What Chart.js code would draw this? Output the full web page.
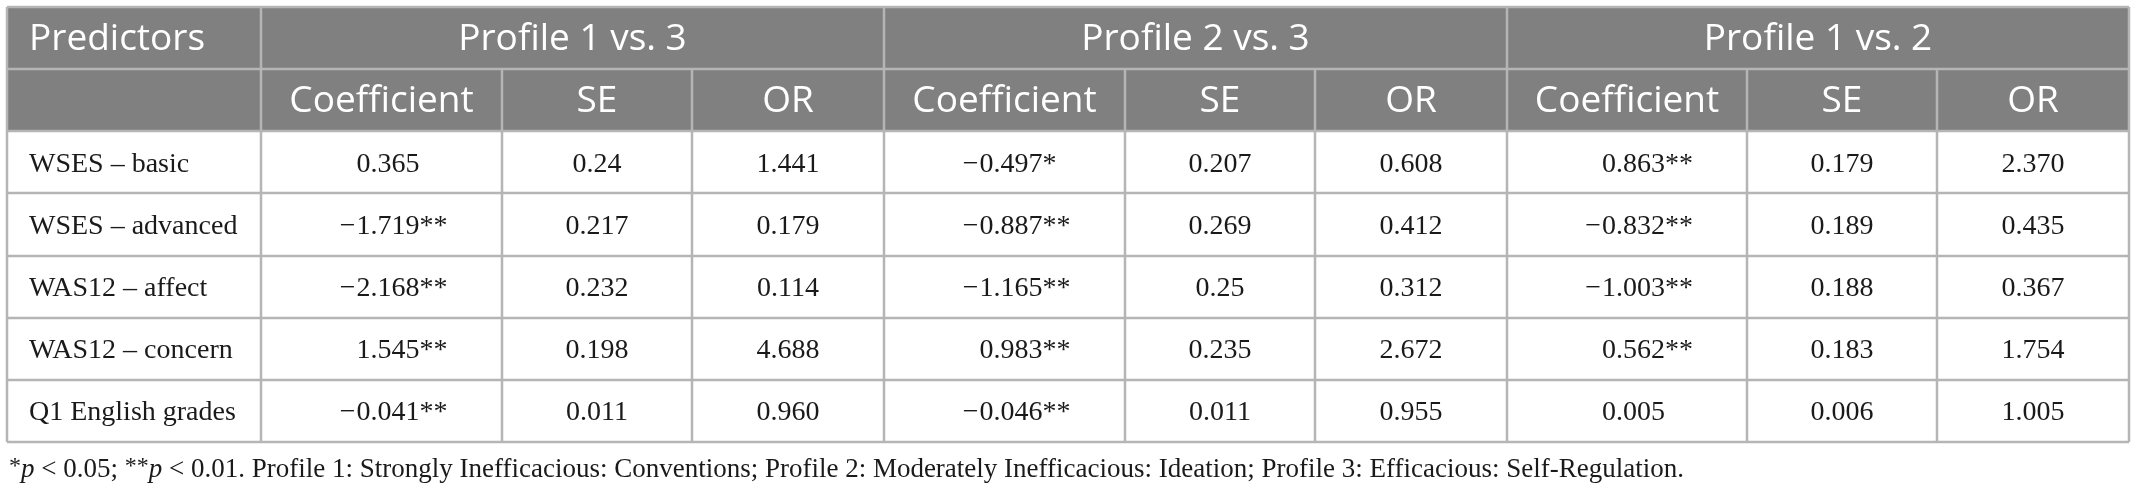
<!DOCTYPE html>
<html>
<head>
<meta charset="utf-8">
<script src="https://cdn.jsdelivr.net/npm/chart.js@4"></script>
<style>
  html, body { margin: 0; padding: 0; background: #fff; }
  #wrap { width: 2136px; height: 496px; position: relative; }
</style>
</head>
<body>
<div id="wrap"><canvas id="chart_table"></canvas></div>
<script>
// Table content
const predictors = ['WSES \u2013 basic', 'WSES \u2013 advanced', 'WAS12 \u2013 affect', 'WAS12 \u2013 concern', 'Q1 English grades'];
const comparisons = ['Profile 1 vs. 3', 'Profile 2 vs. 3', 'Profile 1 vs. 2'];
const statLabels = ['Coefficient', 'SE', 'OR'];

const coef13 = ['0.365', '\u22121.719', '\u22122.168', '1.545', '\u22120.041'];
const sig13 = ['', '**', '**', '**', '**'];
const se13 = ['0.24', '0.217', '0.232', '0.198', '0.011'];
const or13 = ['1.441', '0.179', '0.114', '4.688', '0.960'];

const coef23 = ['\u22120.497', '\u22120.887', '\u22121.165', '0.983', '\u22120.046'];
const sig23 = ['*', '**', '**', '**', '**'];
const se23 = ['0.207', '0.269', '0.25', '0.235', '0.011'];
const or23 = ['0.608', '0.412', '0.312', '2.672', '0.955'];

const coef12 = ['0.863', '\u22120.832', '\u22121.003', '0.562', '0.005'];
const sig12 = ['**', '**', '**', '**', ''];
const se12 = ['0.179', '0.189', '0.188', '0.183', '0.006'];
const or12 = ['2.370', '0.435', '0.367', '1.754', '1.005'];

const footnoteText = ' < 0.01. Profile 1: Strongly Inefficacious: Conventions; Profile 2: Moderately Inefficacious: Ideation; Profile 3: Efficacious: Self-Regulation.';

// layout (column widths in px-like units along the x scale)
const colWidths = [254, 241, 190, 192, 241, 190, 192, 240, 190, 192];
const colEdges = colWidths.reduce((acc, w) => { acc.push(acc[acc.length - 1] + w); return acc; }, [0]);
const rowLabels = ['head1', 'head2'].concat(predictors);

const groups = [
    {coef: coef13, sig: sig13, se: se13, or: or13},
    {coef: coef23, sig: sig23, se: se23, or: or23},
    {coef: coef12, sig: sig12, se: se12, or: or12},
];

const HEAD_FONT = '37px "Open Sans"';
const BODY_FONT = '28px "Liberation Serif"';
const LINE = '#b5b5b5';

function drawCoef(ctx, cx, y, num, stars) {
    let neg = num.startsWith('\u2212');
    let digits = neg ? num.slice(1) : num;
    let start = cx - 25;
    ctx.textAlign = 'left';
    ctx.fillText(digits, start, y);
    let w = ctx.measureText(digits).width;
    if (neg) {
        ctx.textAlign = 'right';
        ctx.fillText('\u2212', start - 1, y);
    }
    if (stars) {
        ctx.textAlign = 'left';
        ctx.fillText(stars, start + w, y);
    }
}

const tablePlugin = {
    id: 'tablePlugin',
    afterDraw(chart) {
        const ctx = chart.ctx;
        const xs = chart.scales.x;
        const ys = chart.scales.y;
        const area = chart.chartArea;
        const rowH = Math.abs(ys.getPixelForValue(1) - ys.getPixelForValue(0));
        const X = v => xs.getPixelForValue(v);
        const rowTop = i => ys.getPixelForValue(i) - rowH / 2;
        const rowMid = i => ys.getPixelForValue(i);

        ctx.save();
        // header background
        ctx.fillStyle = '#808080';
        ctx.fillRect(area.left, rowTop(0), area.right - area.left, rowH * 2);

        // grid lines
        ctx.strokeStyle = LINE;
        ctx.lineWidth = 2.5;
        ctx.beginPath();
        for (let r = 0; r <= rowLabels.length; r++) {
            let y = Math.round(rowTop(0) + r * rowH);
            ctx.moveTo(area.left, y);
            ctx.lineTo(area.right, y);
        }
        colEdges.forEach((e, i) => {
            let x = Math.round(X(e));
            let groupEdge = i === 0 || i === 1 || (i - 1) % 3 === 0;
            let y0 = groupEdge ? rowTop(0) : rowTop(1);
            ctx.moveTo(x, y0);
            ctx.lineTo(x, rowTop(0) + rowH * rowLabels.length);
        });
        ctx.stroke();

        // header text
        ctx.fillStyle = '#ffffff';
        ctx.font = HEAD_FONT;
        ctx.textBaseline = 'middle';
        ctx.textAlign = 'left';
        ctx.fillText('Predictors', X(colEdges[0]) + 22, rowMid(0) + 1);
        ctx.textAlign = 'center';
        comparisons.forEach((c, g) => {
            let a = colEdges[1 + g * 3], b = colEdges[4 + g * 3];
            ctx.fillText(c, X((a + b) / 2), rowMid(0) + 1);
            statLabels.forEach((s, k) => {
                let i = 1 + g * 3 + k;
                ctx.fillText(s, X((colEdges[i] + colEdges[i + 1]) / 2), rowMid(1) + 1);
            });
        });

        // body text
        ctx.fillStyle = '#1a1a1a';
        ctx.font = BODY_FONT;
        predictors.forEach((p, r) => {
            let y = rowMid(r + 2) + 2;
            ctx.textAlign = 'left';
            ctx.fillText(p, X(colEdges[0]) + 22, y);
            groups.forEach((gr, g) => {
                let base = 1 + g * 3;
                let cx = k => X((colEdges[base + k] + colEdges[base + k + 1]) / 2);
                drawCoef(ctx, cx(0), y, gr.coef[r], gr.sig[r]);
                ctx.textAlign = 'center';
                ctx.fillText(gr.se[r], cx(1), y);
                ctx.fillText(gr.or[r], cx(2), y);
            });
        });

        // footnote
        let fy = 470, fx = area.left + 2;
        const parts = [
            ['*', '24px "Liberation Serif"', -3],
            ['p', 'italic 27px "Liberation Serif"', 0],
            [' < 0.05; ', '27px "Liberation Serif"', 0],
            ['**', '24px "Liberation Serif"', -3],
            ['p', 'italic 27px "Liberation Serif"', 0],
            [footnoteText, '27px "Liberation Serif"', 0],
        ];
        ctx.textAlign = 'left';
        parts.forEach(([t, f, dy]) => {
            ctx.font = f;
            ctx.fillText(t, fx, fy + dy);
            fx += ctx.measureText(t).width;
        });
        ctx.restore();
    }
};

let chartTable = new Chart(
    document.getElementById('chart_table'),
    {
        type: 'scatter',
        data: {
            labels: rowLabels,
            datasets: []
        },
        options: {
            responsive: true,
            maintainAspectRatio: false,
            animation: false,
            layout: {
                padding: {left: 7, top: 7, right: 7, bottom: 54}
            },
            scales: {
                x: {
                    type: 'linear',
                    min: 0,
                    max: colEdges[colEdges.length - 1],
                    display: false,
                },
                y: {
                    type: 'category',
                    labels: rowLabels,
                    offset: true,
                    display: false,
                },
            },
            plugins: {
                legend: {display: false},
                tooltip: {enabled: false},
            },
        },
        plugins: [tablePlugin]
    }
);
</script>
</body>
</html>
